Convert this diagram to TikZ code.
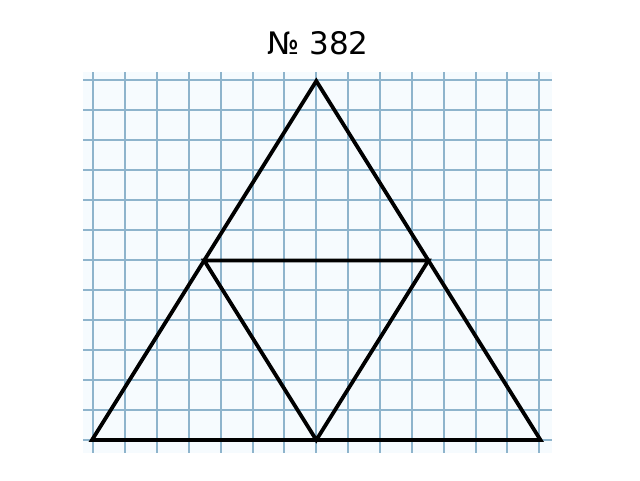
\documentclass[tikz,border=0pt]{standalone}
\usepackage{fontspec}
\setmainfont{DejaVu Sans}
\definecolor{gridblue}{RGB}{142,180,204}
\definecolor{paper}{RGB}{246,251,254}
\begin{document}
\begin{tikzpicture}[x=1pt,y=-1pt,
  gridline/.style={draw=gridblue, line width=2pt},
  edge/.style={draw=black, line width=3.8pt, line join=miter, line cap=round}]
\useasboundingbox (0,0) rectangle (640,480);
\fill[white] (0,0) rectangle (640,480);
\fill[paper] (83,72) rectangle (552,453);
% vertical grid lines
\foreach \k in {0,...,14} {
  \draw[gridline] ({93.3+31.86*\k},72) -- ({93.3+31.86*\k},453);
}
% horizontal grid lines
\foreach \k in {0,...,12} {
  \draw[gridline] (83,{80+30*\k}) -- (552,{80+30*\k});
}
\node[font=\fontsize{31}{34}\selectfont] (title) at (318,43) {№ 382};
\coordinate (A) at (316.3,81);
\coordinate (B) at (92,440);
\coordinate (C) at (540.5,440);
\coordinate (D) at (204.2,260.5);
\coordinate (E) at (428.4,260.5);
\coordinate (F) at (316.3,440);
\draw[edge] (A) -- (B) -- (C) -- cycle;
\draw[edge] (D) -- (E) -- (F) -- cycle;
\end{tikzpicture}
\end{document}
